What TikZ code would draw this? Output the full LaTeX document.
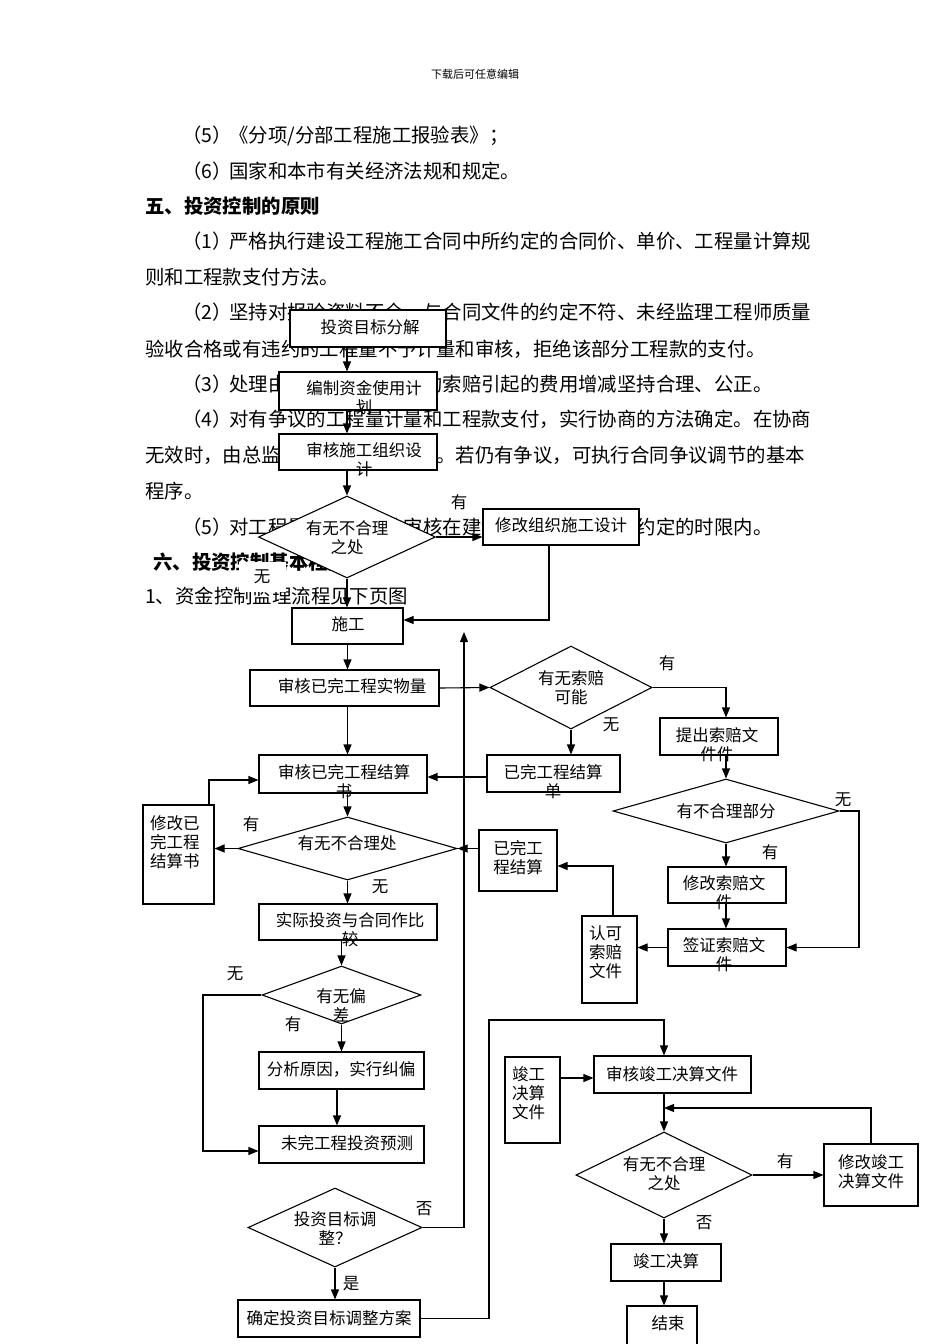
\documentclass[tikz,border=0pt]{standalone}
\usepackage{fontspec}
\setmainfont{Noto Sans CJK SC}
\usetikzlibrary{shapes.geometric,arrows.meta}
\newcommand\pnum[1]{\makebox[44pt][c]{（#1）}}
\begin{document}
\begin{tikzpicture}[x=1pt,y=-1pt,
 bx/.style={draw, fill=white, line width=1.1pt, inner sep=0pt, rectangle},
 dm/.style={draw, fill=white, diamond, line width=1.1pt, inner sep=0pt},
 ft/.style={font=\fontsize{16.5}{19}\selectfont, inner sep=0pt, align=center},
 ml/.style={ft, anchor=north},
 bt/.style={font=\fontsize{19.4}{19.4}\selectfont, inner sep=0pt, anchor=west},
 ln/.style={line width=1.1pt},
 ar/.style={ln, -{Triangle[length=10pt,width=8pt]}},
 ]
\useasboundingbox (0,0) rectangle (950,1344);
\fill[white] (0,0) rectangle (950,1344);

% ---------- body text ----------
\node[font=\fontsize{11}{11}\selectfont, inner sep=0pt] (hdr) at (475,74) {下载后可任意编辑};
\node[bt] (p1) at (185,136) {\pnum{5}《分项/分部工程施工报验表》；};
\node[bt] (p2) at (185,171) {\pnum{6}国家和本市有关经济法规和规定。};
\node[bt, font=\fontsize{19.4}{19.4}\selectfont\bfseries] (p3) at (145,206) {五、投资控制的原则};
\node[bt] (p4) at (185,241) {\pnum{1}严格执行建设工程施工合同中所约定的合同价、单价、工程量计算规};
\node[bt] (p5) at (145,277) {则和工程款支付方法。};
\node[bt] (p6) at (185,312) {\pnum{2}坚持对报验资料不全、与合同文件的约定不符、未经监理工程师质量};
\node[bt] (p7) at (145,349) {验收合格或有违约的工程量不予计量和审核，拒绝该部分工程款的支付。};
\node[bt] (p8) at (185,384) {\pnum{3}处理由于工程变更和违约索赔引起的费用增减坚持合理、公正。};
\node[bt] (p9) at (185,419) {\pnum{4}对有争议的工程量计量和工程款支付，实行协商的方法确定。在协商};
\node[bt] (p10) at (145,455) {无效时，由总监理工程师做出决定。若仍有争议，可执行合同争议调节的基本};
\node[bt] (p11) at (145,491) {程序。};
\node[bt] (p12) at (185,527) {\pnum{5}对工程量及工程款的审核在建设工程施工合同所约定的时限内。};
\node[bt, font=\fontsize{19.4}{19.4}\selectfont\bfseries] (p13) at (153,562) {六、投资控制基本程序};
\node[bt] (p14) at (145,596) {1、资金控制监理流程见下页图};

% ---------- shapes ----------
\node[bx, minimum width=156pt, minimum height=37pt] (b1) at (368,328.5) {};
\node[bx, minimum width=158pt, minimum height=38pt] (b2) at (358,391) {};
\node[bx, minimum width=158pt, minimum height=36pt] (b3) at (358,452) {};
\node[dm, minimum width=177pt, minimum height=82pt] (d1) at (347,537) {};
\node[bx, minimum width=156pt, minimum height=36pt] (b4) at (561,527) {};
\node[bx, minimum width=111pt, minimum height=36pt] (b5) at (347.5,626) {};
\node[bx, minimum width=189pt, minimum height=36pt] (b6) at (344.5,688) {};
\node[dm, minimum width=162pt, minimum height=83pt] (d2) at (571,687.5) {};
\node[bx, minimum width=118pt, minimum height=37pt] (b7) at (719,736.5) {};
\node[bx, minimum width=133pt, minimum height=37pt] (b8) at (553.5,773.5) {};
\node[bx, minimum width=168pt, minimum height=38pt] (b9) at (343,774) {};
\node[dm, minimum width=219pt, minimum height=63pt] (d3) at (347.5,848.5) {};
\node[bx, minimum width=71pt, minimum height=99pt] (b10) at (178.5,854.5) {};
\node[bx, minimum width=78pt, minimum height=61pt] (b11) at (518,860.5) {};
\node[bx, minimum width=55pt, minimum height=87pt] (b12) at (609.5,959.5) {};
\node[dm, minimum width=226pt, minimum height=64pt] (d4) at (726,811) {};
\node[bx, minimum width=118pt, minimum height=36pt] (b13) at (727,885) {};
\node[bx, minimum width=118pt, minimum height=37pt] (b14) at (727,947.5) {};
\node[bx, minimum width=178pt, minimum height=36pt] (b15) at (348,922) {};
\node[dm, minimum width=159pt, minimum height=58pt] (d5) at (341.5,995) {};
\node[bx, minimum width=165pt, minimum height=37pt] (b16) at (341.5,1070.5) {};
\node[bx, minimum width=165pt, minimum height=37pt] (b17) at (341.5,1144.5) {};
\node[dm, minimum width=174pt, minimum height=79pt] (d6) at (335,1227.5) {};
\node[bx, minimum width=182pt, minimum height=37pt] (b18) at (329,1318.5) {};
\node[bx, minimum width=157pt, minimum height=37pt] (b19) at (672.5,1074.5) {};
\node[bx, minimum width=55pt, minimum height=86pt] (b20) at (532.5,1100) {};
\node[dm, minimum width=176pt, minimum height=86pt] (d7) at (664,1175) {};
\node[bx, minimum width=94pt, minimum height=62pt] (b21) at (871,1175) {};
\node[bx, minimum width=110pt, minimum height=37pt] (b22) at (666,1262.5) {};
\node[bx, minimum width=70pt, minimum height=44pt] (b23) at (662,1328) {};

% ---------- texts in shapes ----------
\node[ft] (t1) at (370,327) {投资目标分解};
\node[ml] (t2) at (364,380) {编制资金使用计\\划};
\node[ml] (t3) at (364,442) {审核施工组织设\\计};
\node[ml] (t4) at (347,520) {有无不合理\\之处};
\node[ft] (t5) at (561,525) {修改组织施工设计};
\node[ft] (t6) at (348,624) {施工};
\node[ft] (t7) at (352,686) {审核已完工程实物量};
\node[ml] (t8) at (571,670) {有无索赔\\可能};
\node[ml] (t9) at (717,727) {提出索赔文\\件件};
\node[ml] (t10) at (553,764) {已完工程结算\\单};
\node[ml] (t11) at (344,764) {审核已完工程结算\\书};
\node[ft] (t12) at (347,843) {有无不合理处};
\node[ml, align=left, anchor=north west] (t13) at (150,815) {修改已\\完工程\\结算书};
\node[ml] (t14) at (518,840) {已完工\\程结算};
\node[ml, align=left, anchor=north west] (t15) at (589,925) {认可\\索赔\\文件};
\node[ft] (t16) at (726,811) {有不合理部分};
\node[ml] (t17) at (724,875) {修改索赔文\\件};
\node[ml] (t18) at (724,937) {签证索赔文\\件};
\node[ml] (t19) at (350,912) {实际投资与合同作比\\较};
\node[ml] (t20) at (341,988) {有无偏\\差};
\node[ft] (t21) at (341,1069) {分析原因，实行纠偏};
\node[ft] (t22) at (347,1143) {未完工程投资预测};
\node[ml] (t23) at (335,1211) {投资目标调\\整？};
\node[ft] (t24) at (329,1318) {确定投资目标调整方案};
\node[ft] (t25) at (672,1074) {审核竣工决算文件};
\node[ml, align=left, anchor=north west] (t26) at (512,1066) {竣工\\决算\\文件};
\node[ml] (t27) at (664,1156) {有无不合理\\之处};
\node[ml] (t28) at (871,1154) {修改竣工\\决算文件};
\node[ft] (t29) at (666,1261) {竣工决算};
\node[ft] (t30) at (668,1323) {结束};

% ---------- labels ----------
\node[ft] (l1) at (459,502) {有};
\node[ft, fill=white, minimum width=47pt, minimum height=30pt] (l2) at (262,577) {无};
\node[ft] (l3) at (667,663) {有};
\node[ft] (l4) at (611,725) {无};
\node[ft] (l5) at (843,800) {无};
\node[ft] (l6) at (770,852) {有};
\node[ft] (l7) at (251,824) {有};
\node[ft] (l8) at (380,887) {无};
\node[ft] (l9) at (235,974) {无};
\node[ft] (l10) at (293,1024) {有};
\node[ft] (l11) at (424,1209) {否};
\node[ft] (l12) at (351,1284) {是};
\node[ft] (l13) at (785,1161) {有};
\node[ft] (l14) at (704,1223) {否};

% ---------- coordinates ----------
\coordinate (k1) at (859,811);
\coordinate (k2) at (203,995);
\coordinate (k3) at (464,1227.5);
\coordinate (k4) at (464,632);
\coordinate (k5) at (489,1318.5);
\coordinate (k6) at (664,1020);
\coordinate (k8) at (664,1108);

% ---------- connectors ----------
\draw[ar] (b1.south -| d1.north) -- (b2.north -| d1.north);
\draw[ar] (b2.south -| d1.north) -- (b3.north -| d1.north);
\draw[ar] (b3.south -| d1.north) -- (d1.north);
\draw[ar] (d1.east) -- (d1.east -| b4.west);
\draw[ar] (d1.south) -- (d1.south |- b5.north);
\draw[ar] ([xshift=-12pt]b4.south) |- ([yshift=6pt]b5.east);
\draw[ar] (b5.south) -- (b5.south |- b6.north);
\draw[ar] (b6.east) -- (d2.west);
\draw[ar] (d2.east) -| (b7.north -| d4.north);
\draw[ar] (d2.south) -- (d2.south |- b8.north);
\draw[ar] ([yshift=-3.5pt]b8.west) -- ([yshift=-3.5pt]b8.west -| b9.east);
\draw[ar] (b6.south -| d3.north) -- (b9.north -| d3.north);
\draw[ar] (b9.south -| d3.north) -- (d3.north);
\draw[ar] (d3.west) -- (b10.east |- d3.west);
\draw[ar] ([xshift=30.5pt]b10.north) |- ([yshift=-6pt]b9.west);
\draw[ar] (b11.west |- d3.east) -- (d3.east);
\draw[ar] ([xshift=3.5pt]b12.north) |- ([yshift=-5.5pt]b11.east);
\draw[ar] (d4.north |- b7.south) -- (d4.north);
\draw[ar] (d4.south) -- (d4.south |- b13.north);
\draw[ar] (b13.south -| d4.south) -- (b14.north -| d4.south);
\draw[ar] (d4.east) -- (k1) |- (b14.east);
\draw[ar] (b14.west) -- (b14.west -| b12.east);
\draw[ar] (d3.south) -- (d3.south |- b15.north);
\draw[ar] (b15.south -| d5.north) -- (d5.north);
\draw[ar] (d5.south) -- (d5.south |- b16.north);
\draw[ar] ([xshift=-4.5pt]b16.south) -- ([xshift=-4.5pt]b17.north);
\draw[ar] (d5.west) -- (k2) |- ([yshift=-6.5pt]b17.west);
\draw[ar] (d6.east) -- (k3) -- (k4);
\draw[ar] (d6.south) -- (d6.south |- b18.north);
\draw[ar] (b18.east) -- (k5) |- (k6) -- (k6 |- b19.north);
\draw[ar] ([yshift=-3.5pt]b19.west -| b20.east) -- ([yshift=-3.5pt]b19.west);
\draw[ar] (b19.south -| d7.north) -- (d7.north);
\draw[ar] (d7.east) -- (d7.east -| b21.west);
\draw[ar] (b21.north) |- (k8);
\draw[ar] (d7.south) -- (d7.south |- b22.north);
\draw[ar] (b22.south -| d7.south) -- (b23.north -| d7.south);
\end{tikzpicture}
\end{document}
